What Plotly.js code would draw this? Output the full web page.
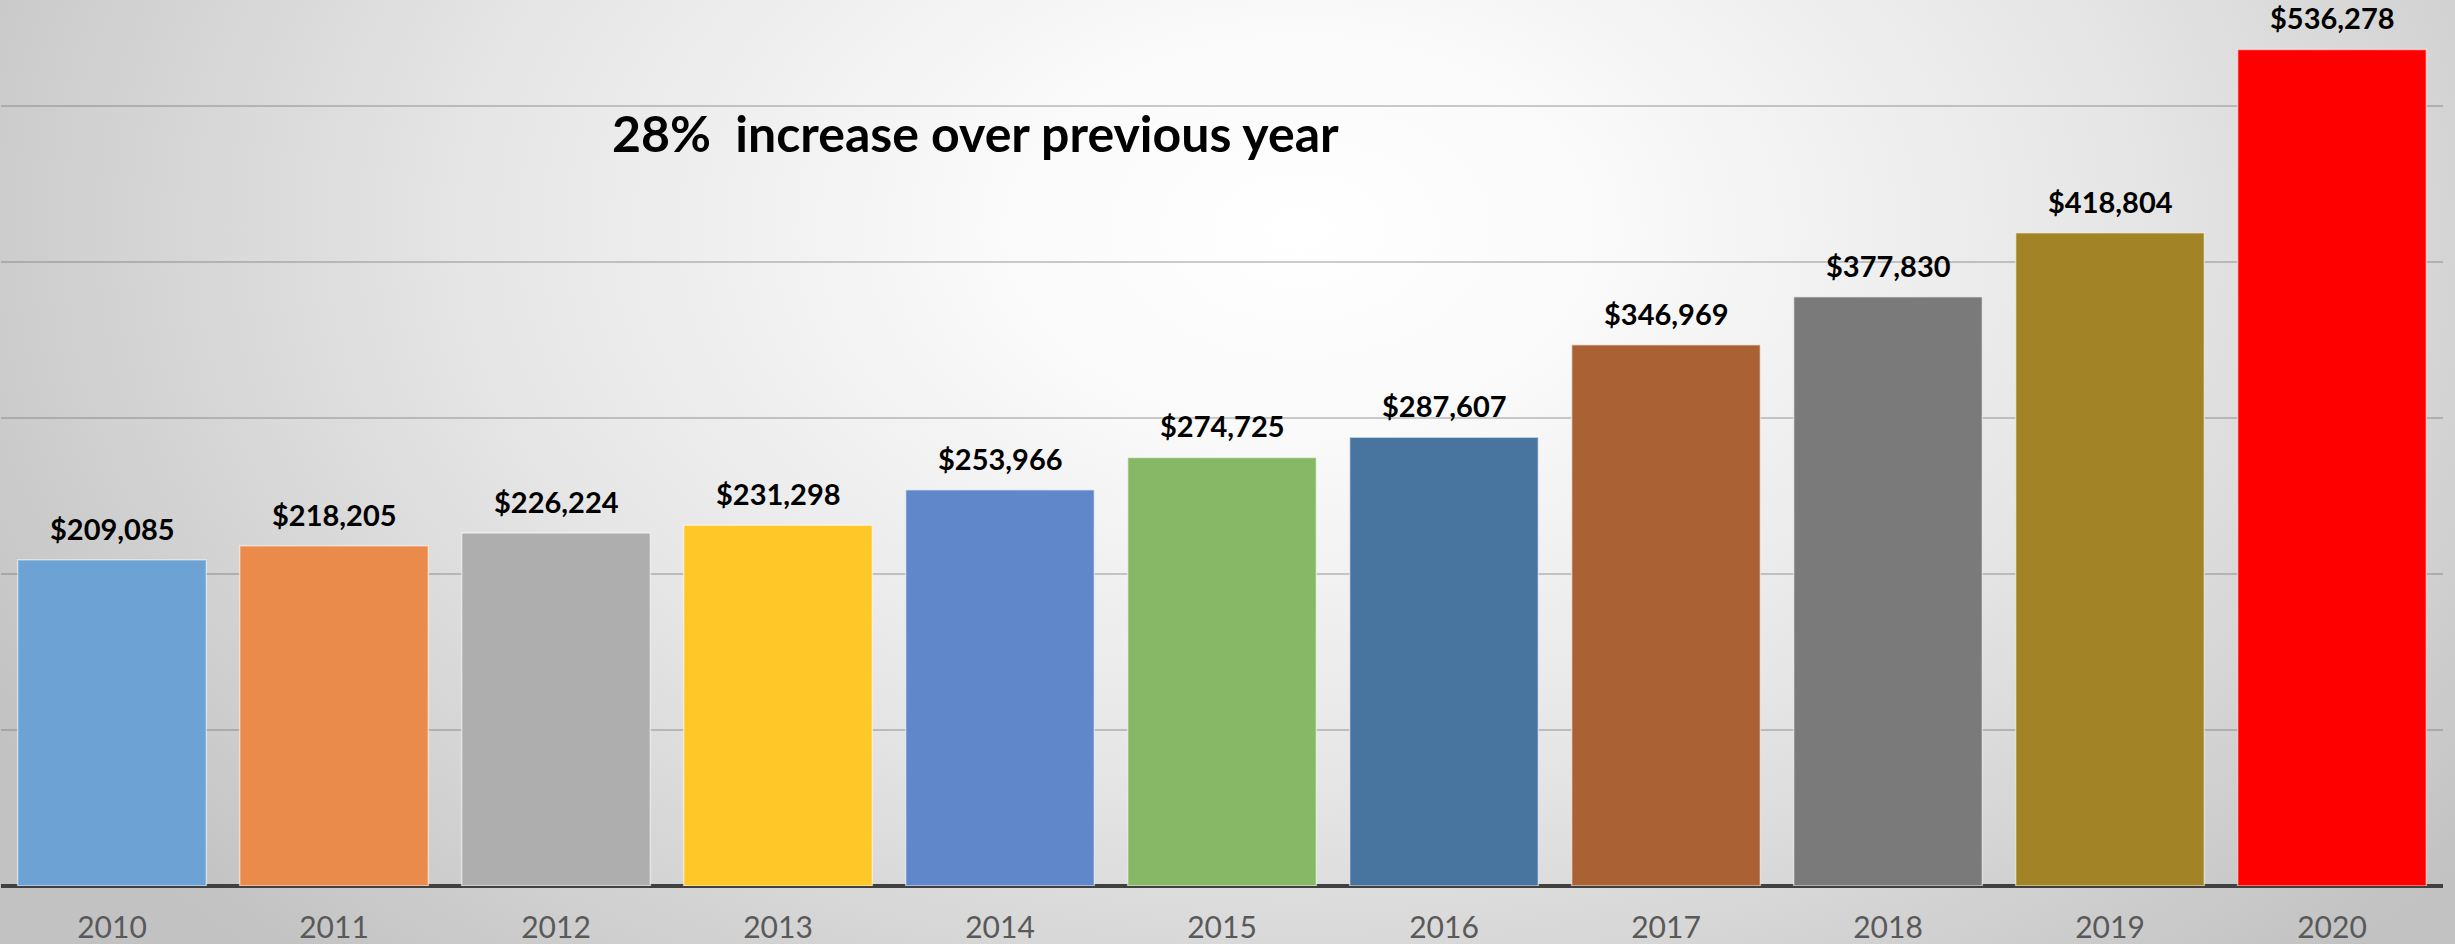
<!DOCTYPE html>
<html>
<head>
<meta charset="utf-8">
<script src="https://cdn.plot.ly/plotly-3.0.1.min.js"></script>
<style>
  html, body { margin: 0; padding: 0; width: 2455px; height: 944px; overflow: hidden; }
  body {
    background: radial-gradient(ellipse 1500px 1000px at 1300px 230px, #ffffff 0%, #fafafa 20%, #e6e6e6 55%, #d2d2d2 80%, #c2c2c2 100%);
  }
  #chart { width: 2455px; height: 944px; }
</style>
</head>
<body>
<div id="chart"></div>
<script>
const years = ['2010','2011','2012','2013','2014','2015','2016','2017','2018','2019','2020'];
const values = [209085, 218205, 226224, 231298, 253966, 274725, 287607, 346969, 377830, 418804, 536278];
const barColors = ['#6ca2d4','#ea8b4c','#aeaeae','#ffc727','#6087ca','#86b866','#4775a0','#aa6133','#7a7a7a','#a28426','#ff0000'];
const headline = '28%  increase over previous year';

const valueLabels = values.map(v => '$' + v.toLocaleString('en-US'));

const trace = {
  type: 'bar',
  x: years,
  y: values,
  marker: { color: barColors, line: { color: 'rgba(255,255,255,0.55)', width: 1.5 } },
  hoverinfo: 'none'
};

const annotations = years.map((yr, i) => ({
  x: i, y: values[i], xref: 'x', yref: 'y',
  text: '<b>' + valueLabels[i] + '</b>',
  showarrow: false, yanchor: 'bottom', xanchor: 'center', yshift: 12,
  font: { family: 'Lato', size: 29, color: '#000000' }
}));
annotations.push({
  xref: 'paper', yref: 'paper', x: 0.2494, y: 0.85, xanchor: 'left', yanchor: 'middle',
  text: '<b>' + headline + '</b>', showarrow: false,
  font: { family: 'Lato', size: 50, color: '#000000' }
});

const layout = {
  width: 2455, height: 944,
  margin: { l: 1, r: 12, t: 0, b: 58 },
  paper_bgcolor: 'rgba(0,0,0,0)',
  plot_bgcolor: 'rgba(0,0,0,0)',
  bargap: 0.15,
  showlegend: false,
  xaxis: {
    type: 'category',
    range: [-0.5, years.length - 0.5], autorange: false,
    showgrid: false, showline: false, ticks: '',
    ticklabelstandoff: 21,
    tickfont: { family: 'Lato', size: 30, color: '#595959' }
  },
  yaxis: {
    range: [0, 568000], autorange: false, dtick: 100000, showticklabels: false,
    gridcolor: 'rgba(110,110,110,0.35)', gridwidth: 2,
    zeroline: true, zerolinecolor: '#404040', zerolinewidth: 4
  },
  annotations: annotations
};

Plotly.newPlot('chart', [trace], layout, { displayModeBar: false, staticPlot: true });
</script>
</body>
</html>
